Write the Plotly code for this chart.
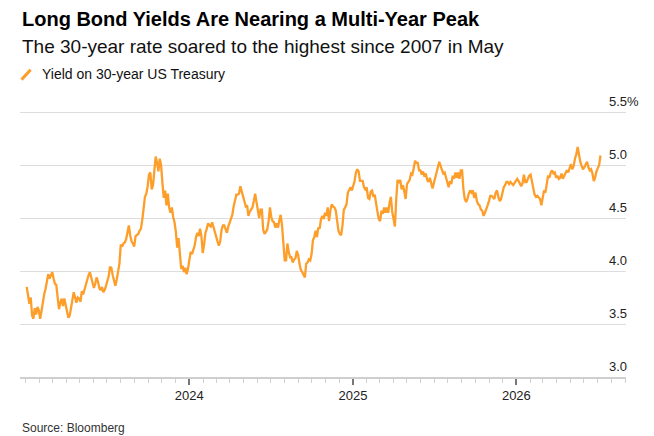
import pandas as pd
import plotly.graph_objects as go

# 30-year US Treasury yield, every 3 days
yields = [
    3.85, 3.78, 3.69, 3.75, 3.58, 3.55, 3.65, 3.59, 3.66, 3.63,
    3.55, 3.62, 3.71, 3.78, 3.83, 3.92, 3.97, 3.93, 3.97, 3.99,
    3.93, 3.88, 3.87, 3.76, 3.64, 3.70, 3.74, 3.67, 3.74, 3.68,
    3.60, 3.56, 3.58, 3.67, 3.75, 3.80, 3.75, 3.70, 3.75, 3.74,
    3.71, 3.81, 3.78, 3.83, 3.87, 3.91, 3.96, 3.99, 3.93, 3.87,
    3.84, 3.88, 3.94, 3.90, 3.84, 3.82, 3.85, 3.80, 3.82, 3.86,
    3.90, 3.95, 4.04, 4.03, 3.96, 3.89, 3.86, 3.92, 4.01, 4.07,
    4.25, 4.23, 4.26, 4.27, 4.30, 4.39, 4.43, 4.34, 4.28, 4.26,
    4.23, 4.33, 4.34, 4.35, 4.38, 4.40, 4.48, 4.62, 4.70, 4.73,
    4.80, 4.91, 4.93, 4.77, 4.81, 4.95, 5.08, 5.02, 4.94, 5.06,
    5.00, 4.83, 4.69, 4.76, 4.62, 4.73, 4.60, 4.55, 4.60, 4.51,
    4.46, 4.37, 4.22, 4.31, 4.15, 4.02, 4.05, 3.99, 4.03, 3.97,
    4.02, 4.12, 4.18, 4.16, 4.21, 4.24, 4.32, 4.36, 4.33, 4.40,
    4.33, 4.17, 4.25, 4.36, 4.40, 4.45, 4.43, 4.42, 4.46, 4.41,
    4.37, 4.33, 4.28, 4.24, 4.28, 4.39, 4.43, 4.43, 4.40, 4.36,
    4.42, 4.46, 4.49, 4.53, 4.61, 4.67, 4.72, 4.72, 4.73, 4.80,
    4.75, 4.70, 4.64, 4.61, 4.62, 4.52, 4.56, 4.58, 4.60, 4.66,
    4.73, 4.65, 4.58, 4.50, 4.58, 4.58, 4.39, 4.35, 4.37, 4.39,
    4.47, 4.60, 4.51, 4.47, 4.46, 4.41, 4.45, 4.41, 4.48, 4.53,
    4.43, 4.27, 4.10, 4.10, 4.26, 4.18, 4.13, 4.13, 4.08, 4.11,
    4.12, 4.19, 4.15, 4.07, 4.01, 3.99, 3.97, 3.94, 4.07, 4.08,
    4.11, 4.10, 4.16, 4.29, 4.32, 4.38, 4.32, 4.41, 4.40, 4.49,
    4.52, 4.49, 4.55, 4.52, 4.60, 4.47, 4.57, 4.63, 4.61, 4.60,
    4.57, 4.46, 4.38, 4.35, 4.34, 4.43, 4.58, 4.60, 4.63, 4.74,
    4.77, 4.79, 4.76, 4.80, 4.85, 4.93, 4.96, 4.94, 4.85, 4.85,
    4.85, 4.79, 4.77, 4.79, 4.69, 4.68, 4.75, 4.76, 4.70, 4.72,
    4.61, 4.56, 4.49, 4.47, 4.57, 4.54, 4.60, 4.55, 4.60, 4.55,
    4.64, 4.70, 4.56, 4.48, 4.42, 4.68, 4.86, 4.83, 4.86, 4.77,
    4.81, 4.75, 4.68, 4.82, 4.84, 4.86, 4.92, 4.91, 4.97, 5.04,
    5.02, 5.02, 4.95, 4.95, 4.91, 4.94, 4.89, 4.92, 4.86, 4.84,
    4.88, 4.83, 4.78, 4.83, 4.89, 4.93, 4.98, 5.03, 4.99, 4.95,
    4.92, 4.93, 4.88, 4.82, 4.79, 4.85, 4.82, 4.90, 4.87, 4.93,
    4.88, 4.93, 4.87, 4.95, 4.95, 4.77, 4.68, 4.65, 4.68, 4.73,
    4.76, 4.74, 4.76, 4.69, 4.74, 4.66, 4.63, 4.62, 4.58, 4.57,
    4.52, 4.55, 4.58, 4.62, 4.66, 4.71, 4.71, 4.69, 4.68, 4.74,
    4.76, 4.70, 4.66, 4.68, 4.74, 4.79, 4.81, 4.84, 4.84, 4.82,
    4.84, 4.82, 4.81, 4.83, 4.85, 4.87, 4.85, 4.83, 4.80, 4.83,
    4.91, 4.84, 4.84, 4.87, 4.90, 4.91, 4.83, 4.78, 4.72, 4.70,
    4.71, 4.69, 4.68, 4.62, 4.70, 4.76, 4.74, 4.84, 4.90, 4.88,
    4.93, 4.95, 4.92, 4.93, 4.88, 4.90, 4.87, 4.88, 4.92, 4.87,
    4.90, 4.92, 4.95, 4.93, 4.98, 5.01, 4.96, 4.99, 5.06, 5.10,
    5.17, 5.09, 5.03, 4.99, 4.96, 4.98, 5.01, 5.03, 4.98, 4.95,
    4.96, 4.92, 4.85, 4.88, 4.94, 4.98, 5.00, 5.09,
]
dates = pd.date_range("2023-01-03", "2026-07-08", periods=len(yields))

y_ticks = [3.0, 3.5, 4.0, 4.5, 5.0, 5.5]
y_labels = ["3.0", "3.5", "4.0", "4.5", "5.0", "5.5%"]
year_ticks = ["2024-01-01", "2025-01-01", "2026-01-01"]
year_labels = ["2024", "2025", "2026"]
x_range = ["2022-12-19", "2026-09-03"]

title = "Long Bond Yields Are Nearing a Multi-Year Peak"
subtitle = "The 30-year rate soared to the highest since 2007 in May"
series_name = "Yield on 30-year US Treasury"
source = "Source: Bloomberg"

ORANGE = "#fd9e2a"
FONT = "Liberation Sans, Arial, sans-serif"

fig = go.Figure()
fig.add_trace(go.Scatter(x=dates, y=yields, mode="lines", name=series_name,
                         line=dict(color=ORANGE, width=2.3), showlegend=False))

fig.update_layout(
    width=654, height=436,
    margin=dict(l=20, r=28, t=111, b=59),
    paper_bgcolor="white", plot_bgcolor="white",
    font=dict(family=FONT, size=13, color="#222"),
    xaxis=dict(
        range=x_range, type="date",
        showgrid=False, zeroline=False,
        showline=True, linecolor="#cfcfcf", linewidth=1.5,
        tickmode="array", tickvals=year_ticks, ticktext=year_labels,
        ticks="outside", ticklen=6, tickwidth=1.5, tickcolor="#777",
        tickfont=dict(size=13, color="#222"),
        minor=dict(tickmode="linear", tick0="2023-01-01", dtick="M1",
                   ticks="outside", ticklen=4, tickwidth=1, tickcolor="#cfcfcf"),
    ),
    yaxis=dict(
        range=[3.0, 5.51], tickmode="array", tickvals=y_ticks, showticklabels=False,
        showgrid=True, gridcolor="#dddddd", gridwidth=1.3,
        zeroline=False, showline=False,
    ),
)

# y tick labels sit above their gridlines at the right edge
for v, t in zip(y_ticks, y_labels):
    fig.add_annotation(x=0.9685, y=v, xref="paper", yref="y", text=t, showarrow=False,
                       xanchor="left", yanchor="bottom", yshift=1,
                       font=dict(size=13, color="#222"))

fig.add_annotation(x=0.0, y=1.347, xref="paper", yref="paper", text="<b>" + title + "</b>",
                   showarrow=False, xanchor="left", yanchor="middle",
                   font=dict(size=20, color="#000"))
fig.add_annotation(x=0.0, y=1.2415, xref="paper", yref="paper", text=subtitle,
                   showarrow=False, xanchor="left", yanchor="middle",
                   font=dict(size=19, color="#111"))
fig.add_annotation(x=0.033, y=1.1396, xref="paper", yref="paper", text=series_name,
                   showarrow=False, xanchor="left", yanchor="middle",
                   font=dict(size=14, color="#111"))
fig.add_annotation(x=0.0, y=-0.1925, xref="paper", yref="paper", text=source,
                   showarrow=False, xanchor="left", yanchor="middle",
                   font=dict(size=12, color="#333"))

# legend swatch: short diagonal stroke
fig.add_shape(type="line", xref="paper", yref="paper",
              x0=0.0025, y0=1.118, x1=0.0175, y1=1.155,
              line=dict(color=ORANGE, width=3))

# drop the page's default body margin so the chart sits at the window corner
fig.write_html("out.html", config={"displayModeBar": False},
               post_script="document.body.style.margin='0';")
